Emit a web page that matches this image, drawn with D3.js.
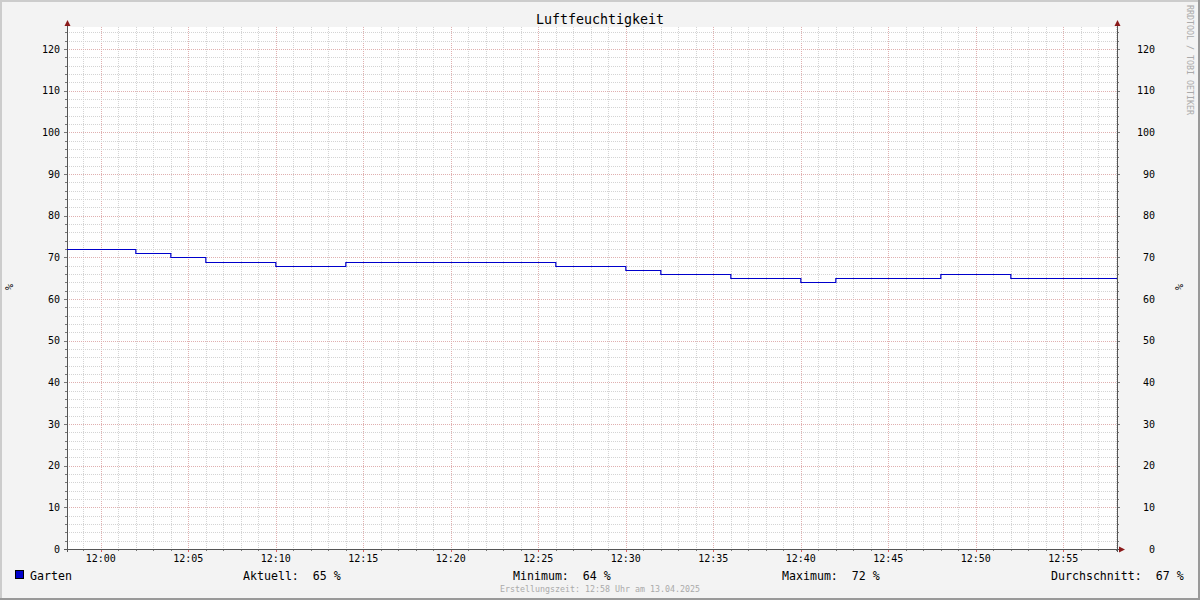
<!DOCTYPE html>
<html><head><meta charset="utf-8">
<script src="https://cdn.jsdelivr.net/npm/d3@7"></script>
<style>html,body{margin:0;padding:0;background:#f3f3f3;}svg{display:block;}</style>
</head><body>
<script>
// ---- data ----
const title = "Luftfeuchtigkeit";
const seriesName = "Garten";
const stepTimes = ["11:58:04","12:02","12:04","12:06","12:10","12:14","12:26","12:30","12:32","12:36","12:40","12:42","12:48","12:52","12:58:04"];
const stepValues = [72,71,70,69,68,69,68,67,66,65,64,65,66,65,65];
const yTicks = [0,10,20,30,40,50,60,70,80,90,100,110,120];
const timeLabels = ["12:00","12:05","12:10","12:15","12:20","12:25","12:30","12:35","12:40","12:45","12:50","12:55"];
const statLabels = ["Aktuell:","Minimum:","Maximum:","Durchschnitt:"];
const statValues = [65,64,72,67];
const unit = "%";
const footer = "Erstellungszeit: 12:58 Uhr am 13.04.2025";
const watermark = "RRDTOOL / TOBI OETIKER";

const W=1200,H=600;
const parse = s => { const p=s.split(":").map(Number); return new Date(Date.UTC(2025,3,13,p[0],p[1],p[2]||0)); };
const mono = "'DejaVu Sans Mono', monospace";

const svg = d3.select("body").append("svg").attr("width",W).attr("height",H);
svg.append("rect").attr("width",W).attr("height",H).attr("fill","#f3f3f3");
// 3D border
svg.append("rect").attr("x",0).attr("y",0).attr("width",W).attr("height",2).attr("fill","#cccccc");
svg.append("rect").attr("x",0).attr("y",0).attr("width",2).attr("height",H).attr("fill","#cccccc");
svg.append("rect").attr("x",0).attr("y",H-2).attr("width",W).attr("height",2).attr("fill","#999999");
svg.append("rect").attr("x",W-2).attr("y",0).attr("width",2).attr("height",H).attr("fill","#999999");

const x0=67,x1=1117,yBase=549,yTop=27;
const x = d3.scaleUtc().domain([parse(stepTimes[0]),parse(stepTimes[stepTimes.length-1])]).range([x0,x1]);
const y = d3.scaleLinear().domain([0,120]).range([yBase,49]);

svg.append("rect").attr("x",x0).attr("y",yTop).attr("width",x1-x0).attr("height",yBase-yTop).attr("fill","#ffffff");

const g = svg.append("g").attr("shape-rendering","crispEdges");
const minorCol="#d4d4d4", majorCol="#e0b0b0";
// vertical grid
const minutes = x.ticks(d3.utcMinute.every(1));
minutes.forEach(t=>{
  const major = t.getUTCMinutes()%5===0;
  const px = Math.round(x(t))+0.5;
  g.append("line").attr("x1",px).attr("x2",px).attr("y1",yTop).attr("y2",yBase+2)
   .attr("stroke",major?majorCol:minorCol).attr("stroke-dasharray","1,1");
});
// horizontal grid
for(let v=2; v<=124; v+=2){
  const major = v%10===0;
  const py = Math.round(y(v))+0.5;
  g.append("line").attr("x1",x0-2).attr("x2",x1+2).attr("y1",py).attr("y2",py)
   .attr("stroke",major?majorCol:minorCol).attr("stroke-dasharray","1,1");
}
// axis tick marks
for(let v=0; v<=124; v+=2){
  const py = Math.round(y(v))+0.5;
  const len = v%10===0?3:2;
  g.append("line").attr("x1",x0-len).attr("x2",x0).attr("y1",py).attr("y2",py).attr("stroke","#777");
  g.append("line").attr("x1",x1).attr("x2",x1+len).attr("y1",py).attr("y2",py).attr("stroke","#777");
}
minutes.forEach(t=>{
  const major = t.getUTCMinutes()%5===0;
  const px = Math.round(x(t))+0.5;
  g.append("line").attr("x1",px).attr("x2",px).attr("y1",yBase).attr("y2",yBase+(major?3:2)).attr("stroke",major?"#e06060":"#777");
});

// data line
const data = stepTimes.map((t,i)=>({t:parse(t),v:stepValues[i]}));
svg.append("path").datum(data)
  .attr("d",d3.line().x(d=>x(d.t)).y(d=>Math.round(y(d.v))+0.5).curve(d3.curveStepAfter))
  .attr("fill","none").attr("stroke","#0000cc").attr("stroke-width",1.2);

// axes lines
const axisCol="#555";
g.append("line").attr("x1",x0+0.5).attr("x2",x0+0.5).attr("y1",yBase+3).attr("y2",24).attr("stroke",axisCol);
g.append("line").attr("x1",x1+0.5).attr("x2",x1+0.5).attr("y1",yBase+3).attr("y2",24).attr("stroke",axisCol);
g.append("line").attr("x1",x0-3).attr("x2",x1+3).attr("y1",yBase+0.5).attr("y2",yBase+0.5).attr("stroke",axisCol);
// arrows
const arrowCol="#8b1a1a";
[[x0+0.5],[x1+0.5]].forEach(([ax])=>{
  svg.append("path").attr("d",`M${ax-3},${26}L${ax},${20}L${ax+3},${26}Z`).attr("fill",arrowCol);
});
svg.append("path").attr("d",`M${x1+2},${yBase-2.5}L${x1+8},${yBase+0.5}L${x1+2},${yBase+3.5}Z`).attr("fill",arrowCol);

// y labels
yTicks.forEach(v=>{
  svg.append("text").attr("x",60).attr("y",y(v)+3.5).attr("text-anchor","end")
    .attr("font-family",mono).attr("font-size",10).attr("fill","#000").text(v);
  svg.append("text").attr("x",1155).attr("y",y(v)+3.5).attr("text-anchor","end")
    .attr("font-family",mono).attr("font-size",10).attr("fill","#000").text(v);
});
// x labels
timeLabels.forEach(l=>{
  svg.append("text").attr("x",x(parse(l))).attr("y",562).attr("text-anchor","middle")
    .attr("font-family",mono).attr("font-size",10).attr("fill","#000").text(l);
});
// unit labels
svg.append("text").attr("transform","translate(13,287) rotate(-90)").attr("text-anchor","middle")
  .attr("font-family",mono).attr("font-size",10).text(unit);
svg.append("text").attr("transform","translate(1183,287) rotate(-90)").attr("text-anchor","middle")
  .attr("font-family",mono).attr("font-size",10).text(unit);

// title
svg.append("text").attr("x",600).attr("y",24).attr("text-anchor","middle")
  .attr("font-family",mono).attr("font-size",13.3).attr("fill","#000").text(title);
// watermark
svg.append("text").attr("transform","translate(1187,5) rotate(90)").attr("text-anchor","start")
  .attr("font-family",mono).attr("font-size",8.3).attr("fill","#aaaaaa").text(watermark);

// legend
svg.append("rect").attr("x",15.5).attr("y",570.5).attr("width",8).attr("height",8).attr("fill","#0000cc").attr("stroke","#000");
svg.append("text").attr("x",30).attr("y",579.5).attr("font-family",mono).attr("font-size",11.6).text(seriesName);
const statX=[243,513,782,1051];
statLabels.forEach((l,i)=>{
  svg.append("text").attr("x",statX[i]).attr("y",579.5).attr("font-family",mono).attr("font-size",11.6)
    .attr("xml:space","preserve").style("white-space","pre").text(`${l}  ${statValues[i]} %`);
});
svg.append("text").attr("x",600).attr("y",592).attr("text-anchor","middle").attr("font-family",mono)
  .attr("font-size",8.3).attr("fill","#aaaaaa").text(footer);
</script>
</body></html>
